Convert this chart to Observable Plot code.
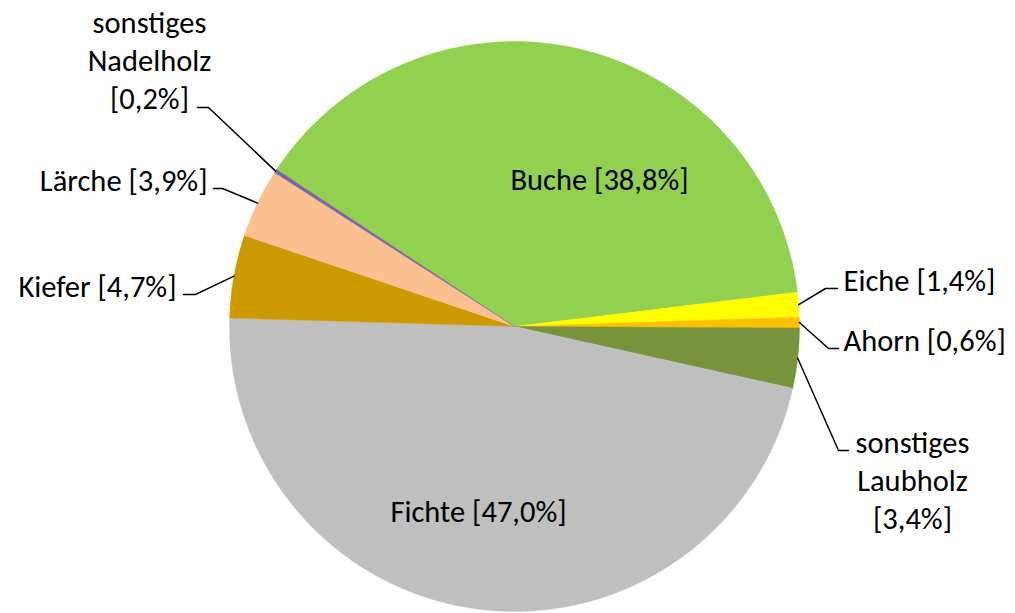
<!DOCTYPE html>
<html><head><meta charset="utf-8">
<script src="https://cdn.jsdelivr.net/npm/d3@7"></script>
<script src="https://cdn.jsdelivr.net/npm/@observablehq/plot@0.6"></script>
<style>html,body{margin:0;padding:0;background:#fff;} #chart svg{display:block}</style>
</head><body><div id="chart"></div>
<script>
// ---- data ----
const species = ["Buche","Eiche","Ahorn","sonstiges Laubholz","Fichte","Kiefer","Lärche","sonstiges Nadelholz"];
const shares = [38.8, 1.4, 0.6, 3.4, 47.0, 4.7, 3.9, 0.2];
const labelNames = ["Buche","Eiche","Ahorn","sonstiges\nLaubholz","Fichte","Kiefer","Lärche","sonstiges\nNadelholz"];
const labelSep = [" ", " ", " ", "\n", " ", " ", " ", "\n"];

// ---- styles / layout ----
const sliceColors = ["#92D050","#FFFF00","#FFC000","#77933C","#BFBFBF","#CC9900","#FAC090","#7F62A6"];
const W = 1015, H = 613, CX = 514, CY = 326, R = 285;
const startDeg = 303.4;
const FS = 30.5, LH = 1.245, SHIFT = 3;
// label layout in pixels: x, baseline of first line, text anchor, optional leader elbow/end
const labelLayout = [
  {x: 599, b: 187, anchor: "middle"},
  {x: 843, b: 288, anchor: "start", elbow: [825, 288], end: [837, 288]},
  {x: 843, b: 348, anchor: "start", elbow: [828, 348], end: [838, 348]},
  {x: 912, b: 450, anchor: "middle", elbow: [838, 450], end: [848, 450]},
  {x: 478, b: 519, anchor: "middle"},
  {x: 176, b: 294, anchor: "end", elbow: [195, 294], end: [183, 294]},
  {x: 207, b: 188, anchor: "end", elbow: [222, 188], end: [213, 188]},
  {x: 149, b: 30, anchor: "middle", elbow: [208, 107], end: [197, 107]}
];

const fmt = v => v.toFixed(1).replace(".", ",") + "%";
const rows = species.map((s, i) => ({species: s, share: shares[i], color: sliceColors[i],
  label: labelNames[i] + labelSep[i] + "[" + fmt(shares[i]) + "]", lay: labelLayout[i]}));

const a0 = startDeg * Math.PI / 180;
const arcs = d3.pie().sort(null).value(d => d.share).startAngle(a0).endAngle(a0 + 2 * Math.PI)(rows);

const ux = px => px - CX, uy = py => CY - py;

const slicePts = [];
arcs.forEach(a => {
  const k = a.data.species, c = a.data.color;
  const n = Math.max(2, Math.ceil((a.endAngle - a.startAngle) / (Math.PI / 360)));
  slicePts.push({k, c, x: 0, y: 0});
  for (let j = 0; j <= n; j++) {
    const t = a.startAngle + (a.endAngle - a.startAngle) * j / n;
    slicePts.push({k, c, x: R * Math.sin(t), y: R * Math.cos(t)});
  }
  slicePts.push({k, c, x: 0, y: 0});
});

const leaderPts = [];
arcs.forEach(a => {
  const L = a.data.lay;
  if (!L.elbow) return;
  const m = (a.startAngle + a.endAngle) / 2;
  const k = a.data.species;
  leaderPts.push({k, x: R * Math.sin(m), y: R * Math.cos(m)});
  leaderPts.push({k, x: ux(L.elbow[0]), y: uy(L.elbow[1])});
  leaderPts.push({k, x: ux(L.end[0]), y: uy(L.end[1])});
});

const labels = rows.map(r => ({text: r.label, x: ux(r.lay.x), y: uy(r.lay.b - 0.71 * FS - SHIFT), anchor: r.lay.anchor}));

const chart = Plot.plot({
  width: W, height: H,
  margin: 0,
  x: {domain: [-CX, W - CX], axis: null},
  y: {domain: [-(H - CY), CY], axis: null},
  style: {fontFamily: "Carlito, Calibri, Lato, sans-serif", background: "#fff"},
  marks: [
    Plot.line(slicePts, {x: "x", y: "y", z: "k", fill: "c", stroke: "c", strokeWidth: 0.4, curve: "linear"}),
    Plot.line(leaderPts, {x: "x", y: "y", z: "k", stroke: "#000", strokeWidth: 1.5}),
    ...["start", "middle", "end"].map(anc =>
      Plot.text(labels.filter(d => d.anchor === anc), {x: "x", y: "y", text: "text", textAnchor: anc,
        lineAnchor: "top", lineHeight: LH, fontSize: FS, fill: "#000"}))
  ]
});
document.getElementById("chart").append(chart);
</script>
</body></html>
